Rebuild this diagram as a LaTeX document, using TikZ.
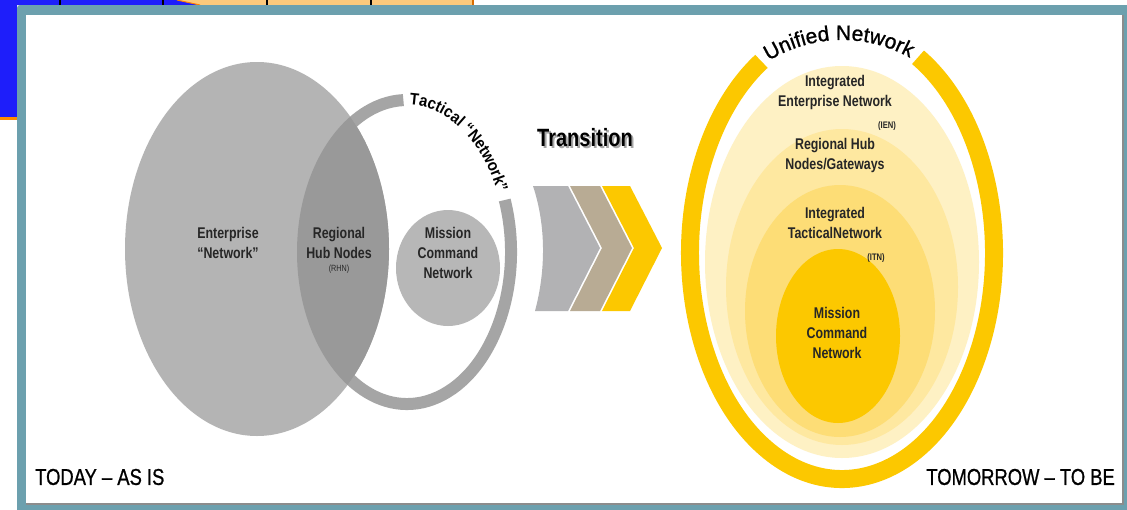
\documentclass[tikz,border=0pt]{standalone}
\usepackage{fontspec}
\setmainfont{Liberation Sans}
\newfontfamily\narrowfont[FakeStretch=0.8]{Liberation Sans}
\newfontfamily\arcnarrow[FakeStretch=0.9]{Liberation Sans}
\newfontfamily\cornerfont[FakeStretch=0.8, FakeBold=0.8]{Liberation Sans}
\newfontfamily\archfont[FakeBold=1]{Liberation Sans}
\usetikzlibrary{decorations.text}

\definecolor{slideblue}{RGB}{30,30,250}
\definecolor{slidepeach}{RGB}{252,201,124}
\definecolor{frameteal}{RGB}{108,160,174}
\definecolor{entgray}{RGB}{180,180,180}
\definecolor{rhngray}{RGB}{153,153,153}
\definecolor{ringgray}{RGB}{165,165,165}
\definecolor{mcgray}{RGB}{183,183,183}
\definecolor{chevgray}{RGB}{178,178,180}
\definecolor{chevtan}{RGB}{184,171,148}
\definecolor{unigold}{RGB}{252,200,0}
\definecolor{ienfill}{RGB}{254,241,196}
\definecolor{gwfill}{RGB}{254,232,160}
\definecolor{itnfill}{RGB}{253,221,118}

\tikzset{
  lbl/.style={font=\narrowfont\bfseries\fontsize{15.5}{20}\selectfont, align=center, text=black!85, inner sep=0pt},
  tag/.style={font=\narrowfont\bfseries\fontsize{9.5}{10}\selectfont, text=black!85, inner sep=0pt},
  corner/.style={font=\cornerfont\fontsize{23}{26}\selectfont, inner sep=0pt},
}

\begin{document}
\begin{tikzpicture}[x=1pt,y=1pt,yscale=-1]
\useasboundingbox (0,0) rectangle (1127,509);

%Slide behind the picture
\fill[slideblue] (0,0) rectangle (17,117);
\fill[slideblue] (0,0) -- (177,0) -- (200,5) -- (0,5) -- cycle;
\fill[slidepeach] (177,0) -- (473,0) -- (473,5) -- (200,5) -- cycle;
\draw[orange, line width=1] (177,0) -- (200,5);
\fill[orange!90!yellow] (0,117) rectangle (17,120);
\foreach \xx in {60,163,267,371} \draw[line width=1.2] (\xx,0) -- (\xx,5);
\draw[orange!85!black, line width=2.5] (473,0) -- (473,5);

%Frame
\fill[frameteal, rounded corners=3] (17,5) rectangle (1130,515);
\fill[black!45] (26,15) rectangle (1124,505);
\fill[white] (26,15) rectangle (1122,503);

%Shape: Tactical ring
\draw[ringgray, line width=12, shift={(407,252)}] (-20:104 and 152) arc[start angle=-20, end angle=268, x radius=104, y radius=152];
%Shape: Ellipse - enterprise
\fill[entgray] (257,249) ellipse[x radius=132, y radius=187];
\begin{scope}
  \clip (257,249) ellipse[x radius=132, y radius=187];
  \fill[rhngray] (407,252) ellipse[x radius=110, y radius=158];
\end{scope}
%Shape: Ellipse - mission command
\fill[mcgray] (448,268) ellipse[x radius=52, y radius=58];

% Text Node
\node[lbl] (ent) at (228,243) {Enterprise\\“Network”};
% Text Node
\node[lbl] (rhn) at (339,243) {Regional\\Hub Nodes};
% Text Node
\node[tag, font=\narrowfont\fontsize{9}{10}\selectfont] (rhntag) at (339,269) {(RHN)};
% Text Node
\node[lbl] (mcl) at (448,253) {Mission\\Command\\Network};
% Text Node
\node[corner, anchor=west] (today) at (35,477) {TODAY – AS IS};

%Chevrons
\fill[chevgray] (533,186) -- (568,186) -- (600,248) -- (568,311) -- (535,311) .. controls (546,270) and (546,225) .. (533,186) -- cycle;
\fill[chevtan] (570,186) -- (600,186) -- (632,248) -- (600,311) -- (570,311) -- (602,248) -- cycle;
\fill[unigold] (602,186) -- (630,186) -- (662,248) -- (630,311) -- (602,311) -- (634,248) -- cycle;
% Text Node
\node[font=\narrowfont\bfseries\fontsize{25}{28}\selectfont, text=black!35, inner sep=0pt] (transhadow) at (587,140) {Transition};
\node[font=\narrowfont\bfseries\fontsize{25}{28}\selectfont, inner sep=0pt] (trans) at (585,138) {Transition};

%Shape: Unified ring
\draw[unigold, line width=18, shift={(842,253)}] (-60:152 and 226) arc[start angle=-60, end angle=238, x radius=152, y radius=226];
%Shape: Ellipses - unified network
\fill[ienfill] (842,262) ellipse[x radius=137, y radius=196];
\fill[gwfill] (842,287) ellipse[x radius=116, y radius=158];
\fill[itnfill] (840,311) ellipse[x radius=95, y radius=126];
\fill[unigold] (838,336) ellipse[x radius=62, y radius=87];

% Text Node
\node[lbl] (ien) at (835,92) {Integrated\\Enterprise Network};
% Text Node
\node[tag] (ientag) at (887,126) {(IEN)};
% Text Node
\node[lbl] (gw) at (835,155) {Regional Hub\\Nodes/Gateways};
% Text Node
\node[lbl] (itn) at (835,223) {Integrated\\TacticalNetwork};
% Text Node
\node[tag] (itntag) at (876,258) {(ITN)};
% Text Node
\node[lbl] (mcn) at (837,333) {Mission\\Command\\Network};
% Text Node
\node[corner, anchor=east] (tomorrow) at (1115,477) {TOMORROW – TO BE};

%Curved texts
\begin{scope}[yscale=-1]
  \path[decorate, decoration={text along path, text align=center,
      text={|\arcnarrow\bfseries\fontsize{16.5}{17}\selectfont|Tactical “Network”}}]
    (407,-252) ++(91:99 and 147) arc[start angle=91, end angle=22, x radius=99, y radius=147];
  \path[decorate, decoration={text along path, text align=center,
      text={|\archfont\fontsize{21}{22}\selectfont|Unified Network}}]
    (842,-253) ++(126:170 and 213) arc[start angle=126, end angle=56, x radius=170, y radius=213];
\end{scope}

\end{tikzpicture}
\end{document}
